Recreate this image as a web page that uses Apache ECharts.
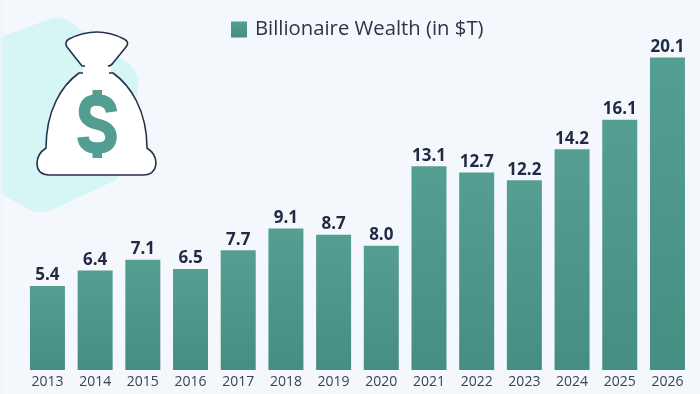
<!DOCTYPE html>
<html><head><meta charset="utf-8">
<style>html,body{margin:0;padding:0;background:#f4f7fb}#c{width:700px;height:394px}</style>
<script src="https://cdn.jsdelivr.net/npm/echarts@6/dist/echarts.min.js"></script>
</head><body><div id="c"></div>
<script>
const years = ['2013','2014','2015','2016','2017','2018','2019','2020','2021','2022','2023','2024','2025','2026'];
const wealth = [5.4,6.4,7.1,6.5,7.7,9.1,8.7,8.0,13.1,12.7,12.2,14.2,16.1,20.1];
const seriesName = 'Billionaire Wealth (in $T)';
const barFill = new echarts.graphic.LinearGradient(0,0,0,1,[{offset:0,color:'#559e92'},{offset:1,color:'#478e82'}]);
const ink = '#1f2a44';
const shapes = {
  blob:'M0 37 L50 19 Q62 15 74 25 L128 63 Q140 72 138 90 L122 170 Q120 178 114 181 L56 208 Q38 216 26 208 L0 193 Z',
  bagFill:'M82 66 L67 47 Q64 42 69 39 Q97 25 124 39 Q130 42 126 47 L113 63 Q109 69 111 73 C130 85 147 110 147 148 Q156 154 156 163 Q155 175 143 175 L50 175 Q37 175 37 163 Q37 154 46 148 C46 110 62 85 81 73 Q85 69 82 66 Z',
  bagTop:'M85 66 L82 66 L67 47 Q64 42 69 39 Q97 25 124 39 Q130 42 126 47 L113 63 Q111 66 108 66',
  bagBody:'M83 73 L79 73 C62 85 46 110 46 148 Q37 154 37 163 Q37 175 50 175 L143 175 Q155 175 156 163 Q156 154 147 148 C147 110 130 85 113 73 L109 73',
  dollar:'M111.5 112 Q110 100 97 100 Q84.5 100 84.5 112 Q84.5 121 97 124 Q111 127 111 137 Q111 148 97 148 Q84 148 83 137'
};
Object.keys(shapes).forEach(k=>echarts.graphic.registerShape(k,echarts.graphic.extendPath(shapes[k],{})));
const chart = echarts.init(document.getElementById('c'),null,{renderer:'canvas'});
chart.setOption({
  animation:false,
  backgroundColor:'#f4f7fb',
  grid:{left:23.6,right:8.7,top:28,bottom:24},
  legend:{top:14.5,left:226,itemWidth:16,itemHeight:16,itemGap:8,
    textStyle:{fontFamily:'Open Sans',fontSize:20.3,color:'#2b3548',padding:[0,0,0,3]},data:[{name:seriesName,icon:'rect'}]},
  xAxis:{type:'category',data:years,axisLine:{show:false},axisTick:{show:false},
    axisLabel:{fontFamily:'Open Sans',fontSize:14,color:'#3a4352',margin:5,interval:0}},
  yAxis:{type:'value',min:0,max:22,show:false,splitLine:{show:false}},
  series:[{name:seriesName,type:'bar',data:wealth,barWidth:35,itemStyle:{color:barFill},
    label:{show:true,position:'top',distance:2,fontFamily:'Open Sans',fontWeight:'bold',fontSize:17,color:ink,
      formatter:p=>p.value.toFixed(1)}}],
  graphic:[
    {type:'blob',silent:true,z:0,style:{fill:'#d6f6f6'}},
    {type:'rect',silent:true,z:0,shape:{x:0,y:0,width:2.5,height:394},style:{fill:'rgba(240,243,247,0.75)'}},
    {type:'bagFill',silent:true,z:1,style:{fill:'#ffffff',stroke:'none'}},
    {type:'bagTop',silent:true,z:2,style:{fill:'none',stroke:'#26324a',lineWidth:1.6}},
    {type:'bagBody',silent:true,z:2,style:{fill:'none',stroke:'#26324a',lineWidth:1.6}},
    {type:'dollar',silent:true,z:2,style:{fill:'none',stroke:'#549d93',lineWidth:11.5}},
    {type:'rect',silent:true,z:2,shape:{x:92.5,y:90,width:9.5,height:12},style:{fill:'#549d93'}},
    {type:'rect',silent:true,z:2,shape:{x:92.5,y:147,width:9.5,height:11},style:{fill:'#549d93'}}
  ]
});
</script></body></html>
